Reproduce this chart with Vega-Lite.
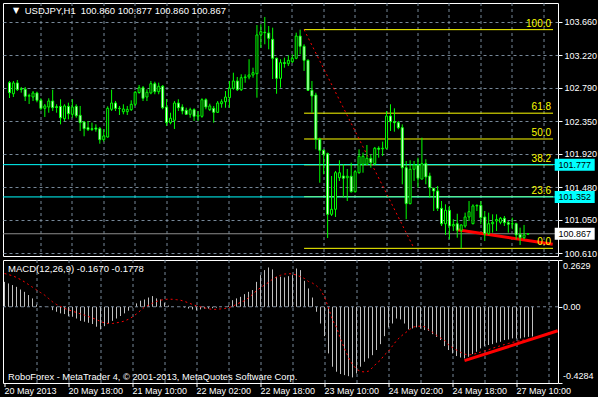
{
  "$schema": "https://vega.github.io/schema/vega-lite/v6.json",
  "background": "#000000",
  "padding": {"left": 2, "top": 2, "right": 0, "bottom": 0},
  "spacing": 0,
  "datasets": {
    "bars": [
      {"i":0,"o":102.857,"h":102.879,"l":102.655,"c":102.725,"m":0.140,"s":0.187},
      {"i":1,"o":102.711,"h":102.879,"l":102.668,"c":102.853,"m":0.131,"s":0.181},
      {"i":2,"o":102.853,"h":102.892,"l":102.747,"c":102.765,"m":0.122,"s":0.174},
      {"i":3,"o":102.775,"h":102.800,"l":102.725,"c":102.770,"m":0.112,"s":0.165},
      {"i":4,"o":102.770,"h":102.800,"l":102.615,"c":102.677,"m":0.097,"s":0.153},
      {"i":5,"o":102.680,"h":102.711,"l":102.576,"c":102.685,"m":0.084,"s":0.140},
      {"i":6,"o":102.668,"h":102.747,"l":102.615,"c":102.721,"m":0.066,"s":0.125},
      {"i":7,"o":102.721,"h":102.738,"l":102.598,"c":102.624,"m":0.047,"s":0.110},
      {"i":8,"o":102.624,"h":102.651,"l":102.493,"c":102.519,"m":0.012,"s":0.095},
      {"i":9,"o":102.519,"h":102.576,"l":102.405,"c":102.550,"m":0.004,"s":0.080},
      {"i":10,"o":102.536,"h":102.651,"l":102.461,"c":102.615,"m":0.001,"s":0.066},
      {"i":11,"o":102.615,"h":102.764,"l":102.484,"c":102.527,"m":-0.002,"s":0.047},
      {"i":12,"o":102.540,"h":102.572,"l":102.461,"c":102.530,"m":-0.019,"s":0.028},
      {"i":13,"o":102.545,"h":102.638,"l":102.308,"c":102.395,"m":-0.028,"s":0.013},
      {"i":14,"o":102.382,"h":102.572,"l":102.352,"c":102.550,"m":-0.037,"s":0.002},
      {"i":15,"o":102.545,"h":102.593,"l":102.374,"c":102.448,"m":-0.041,"s":-0.009},
      {"i":16,"o":102.440,"h":102.638,"l":102.395,"c":102.536,"m":-0.052,"s":-0.017},
      {"i":17,"o":102.545,"h":102.572,"l":102.395,"c":102.421,"m":-0.056,"s":-0.025},
      {"i":18,"o":102.427,"h":102.550,"l":102.220,"c":102.330,"m":-0.066,"s":-0.032},
      {"i":19,"o":102.339,"h":102.352,"l":102.151,"c":102.251,"m":-0.079,"s":-0.040},
      {"i":20,"o":102.264,"h":102.352,"l":102.220,"c":102.238,"m":-0.084,"s":-0.047},
      {"i":21,"o":102.250,"h":102.330,"l":102.220,"c":102.240,"m":-0.090,"s":-0.055},
      {"i":22,"o":102.260,"h":102.308,"l":102.211,"c":102.245,"m":-0.097,"s":-0.063},
      {"i":23,"o":102.251,"h":102.273,"l":102.053,"c":102.106,"m":-0.112,"s":-0.072},
      {"i":24,"o":102.106,"h":102.243,"l":102.080,"c":102.155,"m":-0.127,"s":-0.083},
      {"i":25,"o":102.141,"h":102.545,"l":102.132,"c":102.519,"m":-0.109,"s":-0.090},
      {"i":26,"o":102.506,"h":102.764,"l":102.484,"c":102.589,"m":-0.094,"s":-0.094},
      {"i":27,"o":102.589,"h":102.615,"l":102.484,"c":102.519,"m":-0.079,"s":-0.094},
      {"i":28,"o":102.519,"h":102.550,"l":102.431,"c":102.515,"m":-0.066,"s":-0.090},
      {"i":29,"o":102.474,"h":102.572,"l":102.440,"c":102.510,"m":-0.052,"s":-0.086},
      {"i":30,"o":102.474,"h":102.550,"l":102.431,"c":102.505,"m":-0.037,"s":-0.080},
      {"i":31,"o":102.501,"h":102.624,"l":102.484,"c":102.572,"m":-0.022,"s":-0.070},
      {"i":32,"o":102.572,"h":102.747,"l":102.550,"c":102.730,"m":-0.004,"s":-0.057},
      {"i":33,"o":102.727,"h":102.826,"l":102.711,"c":102.790,"m":0.019,"s":-0.040},
      {"i":34,"o":102.790,"h":102.813,"l":102.615,"c":102.651,"m":0.034,"s":-0.021},
      {"i":35,"o":102.668,"h":102.769,"l":102.615,"c":102.730,"m":0.041,"s":-0.002},
      {"i":36,"o":102.721,"h":102.879,"l":102.704,"c":102.843,"m":0.052,"s":0.009},
      {"i":37,"o":102.843,"h":102.870,"l":102.704,"c":102.738,"m":0.060,"s":0.020},
      {"i":38,"o":102.738,"h":102.857,"l":102.704,"c":102.809,"m":0.047,"s":0.030},
      {"i":39,"o":102.809,"h":102.826,"l":102.506,"c":102.527,"m":0.041,"s":0.037},
      {"i":40,"o":102.536,"h":102.642,"l":102.286,"c":102.330,"m":0.022,"s":0.041},
      {"i":41,"o":102.330,"h":102.461,"l":102.308,"c":102.388,"m":0.007,"s":0.043},
      {"i":42,"o":102.361,"h":102.615,"l":102.247,"c":102.589,"m":0.001,"s":0.042},
      {"i":43,"o":102.589,"h":102.638,"l":102.484,"c":102.527,"m":0.000,"s":0.040},
      {"i":44,"o":102.536,"h":102.572,"l":102.440,"c":102.484,"m":-0.002,"s":0.037},
      {"i":45,"o":102.493,"h":102.527,"l":102.431,"c":102.440,"m":-0.005,"s":0.030},
      {"i":46,"o":102.440,"h":102.527,"l":102.395,"c":102.501,"m":-0.010,"s":0.022},
      {"i":47,"o":102.501,"h":102.519,"l":102.352,"c":102.414,"m":-0.015,"s":0.013},
      {"i":48,"o":102.414,"h":102.484,"l":102.352,"c":102.430,"m":-0.020,"s":0.005},
      {"i":49,"o":102.414,"h":102.651,"l":102.395,"c":102.632,"m":-0.015,"s":0.000},
      {"i":50,"o":102.632,"h":102.651,"l":102.506,"c":102.536,"m":-0.010,"s":-0.006},
      {"i":51,"o":102.501,"h":102.580,"l":102.484,"c":102.550,"m":-0.010,"s":-0.011},
      {"i":52,"o":102.519,"h":102.550,"l":102.330,"c":102.466,"m":-0.008,"s":-0.015},
      {"i":53,"o":102.466,"h":102.615,"l":102.457,"c":102.589,"m":-0.005,"s":-0.014},
      {"i":54,"o":102.580,"h":102.638,"l":102.527,"c":102.606,"m":-0.001,"s":-0.012},
      {"i":55,"o":102.606,"h":102.747,"l":102.527,"c":102.668,"m":0.001,"s":-0.010},
      {"i":56,"o":102.659,"h":102.879,"l":102.527,"c":102.783,"m":0.007,"s":-0.005},
      {"i":57,"o":102.783,"h":102.988,"l":102.764,"c":102.879,"m":0.037,"s":0.002},
      {"i":58,"o":102.879,"h":102.932,"l":102.747,"c":102.764,"m":0.047,"s":0.014},
      {"i":59,"o":102.764,"h":102.967,"l":102.747,"c":102.922,"m":0.056,"s":0.025},
      {"i":60,"o":102.922,"h":102.967,"l":102.856,"c":102.932,"m":0.071,"s":0.034},
      {"i":61,"o":102.932,"h":103.165,"l":102.901,"c":102.958,"m":0.084,"s":0.050},
      {"i":62,"o":102.958,"h":103.054,"l":102.922,"c":102.988,"m":0.094,"s":0.070},
      {"i":63,"o":102.975,"h":103.616,"l":102.659,"c":103.485,"m":0.140,"s":0.090},
      {"i":64,"o":103.485,"h":103.625,"l":103.317,"c":103.528,"m":0.178,"s":0.107},
      {"i":65,"o":103.520,"h":103.722,"l":103.362,"c":103.515,"m":0.206,"s":0.122},
      {"i":66,"o":103.511,"h":103.603,"l":103.296,"c":103.441,"m":0.221,"s":0.137},
      {"i":67,"o":103.428,"h":103.581,"l":102.905,"c":103.178,"m":0.210,"s":0.155},
      {"i":68,"o":103.178,"h":103.186,"l":102.711,"c":102.914,"m":0.169,"s":0.167},
      {"i":69,"o":102.914,"h":103.165,"l":102.790,"c":103.120,"m":0.169,"s":0.177},
      {"i":70,"o":103.120,"h":103.186,"l":103.054,"c":103.110,"m":0.165,"s":0.184},
      {"i":71,"o":103.107,"h":103.217,"l":103.076,"c":103.151,"m":0.172,"s":0.186},
      {"i":72,"o":103.133,"h":103.230,"l":103.116,"c":103.178,"m":0.178,"s":0.185},
      {"i":73,"o":103.178,"h":103.515,"l":103.165,"c":103.471,"m":0.215,"s":0.178},
      {"i":74,"o":103.471,"h":103.555,"l":103.230,"c":103.336,"m":0.206,"s":0.169},
      {"i":75,"o":103.336,"h":103.362,"l":103.011,"c":103.151,"m":0.146,"s":0.159},
      {"i":76,"o":103.151,"h":103.165,"l":102.747,"c":102.756,"m":0.103,"s":0.142},
      {"i":77,"o":102.756,"h":102.879,"l":102.461,"c":102.681,"m":0.052,"s":0.133},
      {"i":78,"o":102.694,"h":102.724,"l":101.979,"c":102.111,"m":-0.028,"s":0.118},
      {"i":79,"o":102.111,"h":102.132,"l":101.539,"c":101.966,"m":-0.094,"s":0.096},
      {"i":80,"o":101.966,"h":101.979,"l":101.650,"c":101.913,"m":-0.165,"s":0.055},
      {"i":81,"o":101.921,"h":101.935,"l":100.811,"c":101.123,"m":-0.262,"s":-0.005},
      {"i":82,"o":101.123,"h":101.628,"l":101.101,"c":101.189,"m":-0.337,"s":-0.075},
      {"i":83,"o":101.189,"h":101.694,"l":101.088,"c":101.671,"m":-0.365,"s":-0.115},
      {"i":84,"o":101.605,"h":101.835,"l":101.562,"c":101.671,"m":-0.378,"s":-0.180},
      {"i":85,"o":101.628,"h":101.782,"l":101.342,"c":101.598,"m":-0.384,"s":-0.235},
      {"i":86,"o":101.605,"h":101.720,"l":101.298,"c":101.625,"m":-0.390,"s":-0.285},
      {"i":87,"o":101.624,"h":101.803,"l":101.408,"c":101.421,"m":-0.397,"s":-0.325},
      {"i":88,"o":101.421,"h":101.707,"l":101.408,"c":101.684,"m":-0.375,"s":-0.350},
      {"i":89,"o":101.671,"h":101.979,"l":101.658,"c":101.887,"m":-0.337,"s":-0.364},
      {"i":90,"o":101.782,"h":101.935,"l":101.671,"c":101.887,"m":-0.309,"s":-0.366},
      {"i":91,"o":101.782,"h":102.036,"l":101.772,"c":101.861,"m":-0.290,"s":-0.362},
      {"i":92,"o":101.861,"h":101.913,"l":101.737,"c":101.803,"m":-0.272,"s":-0.342},
      {"i":93,"o":101.790,"h":102.010,"l":101.772,"c":101.993,"m":-0.243,"s":-0.318},
      {"i":94,"o":101.993,"h":102.019,"l":101.869,"c":101.980,"m":-0.210,"s":-0.300},
      {"i":95,"o":101.985,"h":102.080,"l":101.891,"c":101.993,"m":-0.165,"s":-0.270},
      {"i":96,"o":101.993,"h":102.484,"l":101.979,"c":102.418,"m":-0.116,"s":-0.250},
      {"i":97,"o":102.418,"h":102.572,"l":102.220,"c":102.343,"m":-0.094,"s":-0.220},
      {"i":98,"o":102.343,"h":102.519,"l":102.211,"c":102.330,"m":-0.066,"s":-0.190},
      {"i":99,"o":102.330,"h":102.352,"l":102.243,"c":102.264,"m":-0.071,"s":-0.168},
      {"i":100,"o":102.264,"h":102.308,"l":101.518,"c":101.737,"m":-0.094,"s":-0.150},
      {"i":101,"o":101.737,"h":101.825,"l":101.058,"c":101.263,"m":-0.127,"s":-0.133},
      {"i":102,"o":101.263,"h":101.835,"l":101.255,"c":101.716,"m":-0.122,"s":-0.115},
      {"i":103,"o":101.716,"h":101.825,"l":101.562,"c":101.773,"m":-0.116,"s":-0.110},
      {"i":104,"o":101.773,"h":101.869,"l":101.474,"c":101.598,"m":-0.122,"s":-0.109},
      {"i":105,"o":101.587,"h":102.132,"l":101.584,"c":101.790,"m":-0.131,"s":-0.112},
      {"i":106,"o":101.790,"h":101.848,"l":101.518,"c":101.615,"m":-0.135,"s":-0.128},
      {"i":107,"o":101.628,"h":101.671,"l":101.342,"c":101.474,"m":-0.154,"s":-0.143},
      {"i":108,"o":101.466,"h":101.474,"l":101.167,"c":101.430,"m":-0.169,"s":-0.160},
      {"i":109,"o":101.430,"h":101.496,"l":101.167,"c":101.202,"m":-0.187,"s":-0.175},
      {"i":110,"o":101.202,"h":101.298,"l":100.969,"c":100.999,"m":-0.221,"s":-0.187},
      {"i":111,"o":100.999,"h":101.255,"l":100.851,"c":101.176,"m":-0.243,"s":-0.214},
      {"i":112,"o":101.176,"h":101.233,"l":100.794,"c":100.969,"m":-0.262,"s":-0.230},
      {"i":113,"o":100.969,"h":101.058,"l":100.903,"c":100.990,"m":-0.277,"s":-0.243},
      {"i":114,"o":100.999,"h":101.131,"l":100.815,"c":100.913,"m":-0.285,"s":-0.256},
      {"i":115,"o":100.913,"h":100.992,"l":100.675,"c":100.983,"m":-0.290,"s":-0.266},
      {"i":116,"o":100.969,"h":101.145,"l":100.947,"c":101.088,"m":-0.281,"s":-0.271},
      {"i":117,"o":101.088,"h":101.298,"l":101.035,"c":101.157,"m":-0.266,"s":-0.268},
      {"i":118,"o":100.999,"h":101.255,"l":100.992,"c":101.233,"m":-0.253,"s":-0.262},
      {"i":119,"o":101.233,"h":101.255,"l":101.167,"c":101.240,"m":-0.234,"s":-0.255},
      {"i":120,"o":101.242,"h":101.298,"l":100.992,"c":101.079,"m":-0.221,"s":-0.248},
      {"i":121,"o":101.088,"h":101.167,"l":100.772,"c":100.868,"m":-0.215,"s":-0.241},
      {"i":122,"o":100.868,"h":101.145,"l":100.851,"c":100.999,"m":-0.210,"s":-0.233},
      {"i":123,"o":100.999,"h":101.123,"l":100.881,"c":101.018,"m":-0.202,"s":-0.226},
      {"i":124,"o":101.035,"h":101.123,"l":100.903,"c":101.055,"m":-0.197,"s":-0.219},
      {"i":125,"o":101.018,"h":101.088,"l":100.992,"c":101.071,"m":-0.187,"s":-0.212},
      {"i":126,"o":101.071,"h":101.101,"l":100.969,"c":101.013,"m":-0.184,"s":-0.206},
      {"i":127,"o":101.013,"h":101.035,"l":100.881,"c":100.992,"m":-0.178,"s":-0.200},
      {"i":128,"o":100.995,"h":101.079,"l":100.926,"c":100.999,"m":-0.178,"s":-0.195},
      {"i":129,"o":100.999,"h":101.012,"l":100.794,"c":100.851,"m":-0.178,"s":-0.190},
      {"i":130,"o":100.860,"h":100.947,"l":100.719,"c":100.815,"m":-0.172,"s":-0.186},
      {"i":131,"o":100.815,"h":100.983,"l":100.794,"c":100.851,"m":-0.169,"s":-0.182},
      {"i":132,"o":100.860,"h":100.877,"l":100.860,"c":100.867,"m":-0.167,"s":-0.178}
    ],
    "fib": [
      {"level":"100.0","price":103.555},
      {"level":"61.8","price":102.455},
      {"level":"50.0","price":102.115},
      {"level":"38.2","price":101.775},
      {"level":"23.6","price":101.355},
      {"level":"0.0","price":100.675}
    ],
    "hlines": [
      {"name":"line1","price":101.777},
      {"name":"line2","price":101.352}
    ],
    "bid": [{"price":100.867}],
    "fibtrend": [{"i":75,"p":103.555},{"i":103,"p":100.675}],
    "support": [{"i":114,"p":100.920},{"i":138.3,"p":100.728}],
    "macdtrend": [{"i":115,"v":-0.303},{"i":138.3,"v":-0.135}]
  },
  "vconcat": [
    {
      "width": 555,
      "height": 253,
      "layer": [
        {
          "data": {"name": "fib"},
          "mark": {"type": "rule", "color": "#ffff00", "strokeWidth": 1},
          "encoding": {
            "x": {"datum": 75, "type": "quantitative",
              "scale": {"domain": [-0.375, 138.375], "nice": false, "zero": false},
              "axis": {"values": [8,16,24,32,40,48,56,64,72,80,88,96,104,112,120,128,136], "tickCount": 200, "grid": true, "labels": false, "ticks": false, "domain": false, "title": null, "translate": 0, "minExtent": 0, "maxExtent": 0, "offset": 0}},
            "x2": {"datum": 138.375},
            "y": {"field": "price", "type": "quantitative",
              "scale": {"domain": [100.574, 103.906], "nice": false, "zero": false},
              "axis": {"orient": "right", "values": [100.61, 101.05, 101.48, 101.92, 102.35, 102.79, 103.22, 103.66], "tickCount": 200, "format": ".3f", "grid": true, "tickSize": 4, "labelPadding": 2, "labelOverlap": false, "labelBound": false, "labelFlush": false, "domain": false, "title": null}}
          }
        },
        {
          "data": {"name": "hlines"},
          "mark": {"type": "rule", "color": "#00ffff", "strokeWidth": 1},
          "encoding": {"y": {"field": "price", "type": "quantitative"}}
        },
        {
          "data": {"name": "bid"},
          "mark": {"type": "rule", "color": "#8c8c8c", "strokeWidth": 1},
          "encoding": {"y": {"field": "price", "type": "quantitative"}}
        },
        {
          "data": {"name": "fibtrend"},
          "mark": {"type": "line", "color": "#ff0000", "strokeWidth": 1, "strokeDash": [2, 3]},
          "encoding": {"x": {"field": "i", "type": "quantitative"}, "y": {"field": "p", "type": "quantitative"}}
        },
        {
          "data": {"name": "support"},
          "mark": {"type": "line", "color": "#ff0000", "strokeWidth": 3},
          "encoding": {"x": {"field": "i", "type": "quantitative"}, "y": {"field": "p", "type": "quantitative"}}
        },
        {
          "data": {"name": "bars"},
          "mark": {"type": "rule", "color": "#00ff00", "strokeWidth": 1},
          "encoding": {
            "x": {"field": "i", "type": "quantitative"},
            "y": {"field": "l", "type": "quantitative"},
            "y2": {"field": "h"}
          }
        },
        {
          "data": {"name": "bars"},
          "mark": {"type": "bar", "width": 2, "stroke": "#00ff00", "strokeWidth": 1},
          "encoding": {
            "x": {"field": "i", "type": "quantitative"},
            "y": {"field": "o", "type": "quantitative"},
            "y2": {"field": "c"},
            "fill": {"condition": {"test": "datum.c < datum.o", "value": "#ffffff"}, "value": "#000000"}
          }
        },
        {
          "data": {"name": "fib"},
          "mark": {"type": "text", "color": "#ffff00", "align": "right", "baseline": "bottom", "dy": -1, "font": "Liberation Sans", "fontSize": 10},
          "encoding": {
            "x": {"datum": 137.875},
            "y": {"field": "price", "type": "quantitative"},
            "text": {"field": "level"}
          }
        },
        {
          "data": {"name": "hlines"},
          "mark": {"type": "tick", "orient": "horizontal", "color": "#00ffff", "size": 40, "thickness": 12, "opacity": 1},
          "encoding": {"x": {"datum": 143.9}, "y": {"field": "price", "type": "quantitative"}}
        },
        {
          "data": {"name": "bid"},
          "mark": {"type": "tick", "orient": "horizontal", "color": "#ffffff", "size": 40, "thickness": 12, "opacity": 1},
          "encoding": {"x": {"datum": 143.9}, "y": {"field": "price", "type": "quantitative"}}
        },
        {
          "data": {"name": "hlines"},
          "mark": {"type": "text", "color": "#000000", "align": "center", "baseline": "middle", "font": "Liberation Sans", "fontSize": 9},
          "encoding": {"x": {"datum": 143.9}, "y": {"field": "price", "type": "quantitative"}, "text": {"field": "price", "format": ".3f"}}
        },
        {
          "data": {"name": "bid"},
          "mark": {"type": "text", "color": "#000000", "align": "center", "baseline": "middle", "font": "Liberation Sans", "fontSize": 9},
          "encoding": {"x": {"datum": 143.9}, "y": {"field": "price", "type": "quantitative"}, "text": {"field": "price", "format": ".3f"}}
        },
        {
          "data": {"values": [{}]},
          "mark": {"type": "text", "color": "#ffffff", "align": "left", "baseline": "middle", "font": "DejaVu Sans", "fontSize": 8, "text": "▼"},
          "encoding": {"x": {"datum": 0.9}, "y": {"datum": 103.801}}
        },
        {
          "data": {"values": [{}]},
          "mark": {"type": "text", "color": "#ffffff", "align": "left", "baseline": "middle", "font": "Liberation Sans", "fontSize": 9.5, "text": "USDJPY,H1"},
          "encoding": {"x": {"datum": 3.875}, "y": {"datum": 103.801}}
        },
        {
          "data": {"values": [{}]},
          "mark": {"type": "text", "color": "#ffffff", "align": "left", "baseline": "middle", "font": "Liberation Sans", "fontSize": 9.5, "text": "100.860 100.877 100.860 100.867"},
          "encoding": {"x": {"datum": 18.125}, "y": {"datum": 103.801}}
        }
      ]
    },
    {
      "width": 555,
      "height": 123,
      "layer": [
        {
          "data": {"name": "bars"},
          "mark": {"type": "rule", "color": "#c0c0c0", "strokeWidth": 1},
          "encoding": {
            "x": {"field": "i", "type": "quantitative",
              "scale": {"domain": [-0.375, 138.375], "nice": false, "zero": false},
              "axis": {"values": [0,8,16,24,32,40,48,56,64,72,80,88,96,104,112,120,128,136], "tickCount": 200, "grid": true, "domain": false, "title": null, "translate": 0,
                "labelExpr": "datum.value % 16 == 0 ? ['20 May 2013','20 May 18:00','21 May 10:00','22 May 02:00','22 May 18:00','23 May 10:00','24 May 02:00','24 May 18:00','27 May 10:00'][datum.value / 16] : ''",
                "labelAlign": "left", "labelPadding": 0, "tickSize": 4, "labelOverlap": false, "labelBound": false, "labelFlush": false,
                "tickOpacity": {"condition": {"test": "datum.value % 16 == 0", "value": 1}, "value": 0},
                "gridOpacity": {"condition": {"test": "datum.value == 0", "value": 0}, "value": 1}}},
            "y": {"field": "m", "type": "quantitative",
              "scale": {"domain": [-0.4284, 0.2629], "nice": false, "zero": false},
              "axis": {"orient": "right", "values": [-0.4284, 0, 0.2629], "tickCount": 200, "grid": false, "tickSize": 4, "labels": false, "domain": false, "title": null}},
            "y2": {"datum": 0}
          }
        },
        {
          "data": {"values": [{}]},
          "mark": {"type": "rule", "color": "#778899", "strokeWidth": 1, "strokeDash": [3, 3]},
          "encoding": {"y": {"datum": 0}}
        },
        {
          "data": {"name": "bars"},
          "mark": {"type": "line", "color": "#ff0000", "strokeWidth": 1, "strokeDash": [2, 3]},
          "encoding": {"x": {"field": "i", "type": "quantitative"}, "y": {"field": "s", "type": "quantitative"}}
        },
        {
          "data": {"name": "macdtrend"},
          "mark": {"type": "line", "color": "#ff0000", "strokeWidth": 3},
          "encoding": {"x": {"field": "i", "type": "quantitative"}, "y": {"field": "v", "type": "quantitative"}}
        },
        {
          "data": {"values": [{}]},
          "mark": {"type": "text", "color": "#ffffff", "align": "left", "baseline": "top", "dy": 2, "font": "Liberation Sans", "fontSize": 9, "text": "0.2629"},
          "encoding": {"x": {"datum": 139.625}, "y": {"datum": 0.2629}}
        },
        {
          "data": {"values": [{}]},
          "mark": {"type": "text", "color": "#ffffff", "align": "left", "baseline": "middle", "font": "Liberation Sans", "fontSize": 9, "text": "0.00"},
          "encoding": {"x": {"datum": 139.625}, "y": {"datum": 0}}
        },
        {
          "data": {"values": [{}]},
          "mark": {"type": "text", "color": "#ffffff", "align": "left", "baseline": "bottom", "dy": -2, "font": "Liberation Sans", "fontSize": 9, "text": "-0.4284"},
          "encoding": {"x": {"datum": 139.625}, "y": {"datum": -0.4284}}
        },
        {
          "data": {"values": [{}]},
          "mark": {"type": "text", "color": "#ffffff", "align": "left", "baseline": "middle", "font": "Liberation Sans", "fontSize": 9.5, "text": "MACD(12,26,9) -0.1670 -0.1778"},
          "encoding": {"x": {"datum": 0.9}, "y": {"datum": 0.212}}
        },
        {
          "data": {"values": [{}]},
          "mark": {"type": "text", "color": "#ffffff", "align": "left", "baseline": "middle", "font": "Liberation Sans", "fontSize": 9.3, "text": "RoboForex - MetaTrader 4, © 2001-2013, MetaQuotes Software Corp."},
          "encoding": {"x": {"datum": 0.9}, "y": {"datum": -0.392}}
        }
      ]
    }
  ],
  "config": {
    "view": {"stroke": "#ffffff", "strokeWidth": 1},
    "axis": {"labelColor": "#ffffff", "tickColor": "#ffffff", "gridColor": "#778899", "gridDash": [3, 3], "labelFont": "Liberation Sans", "labelFontSize": 9, "labelOverlap": false}
  }
}
